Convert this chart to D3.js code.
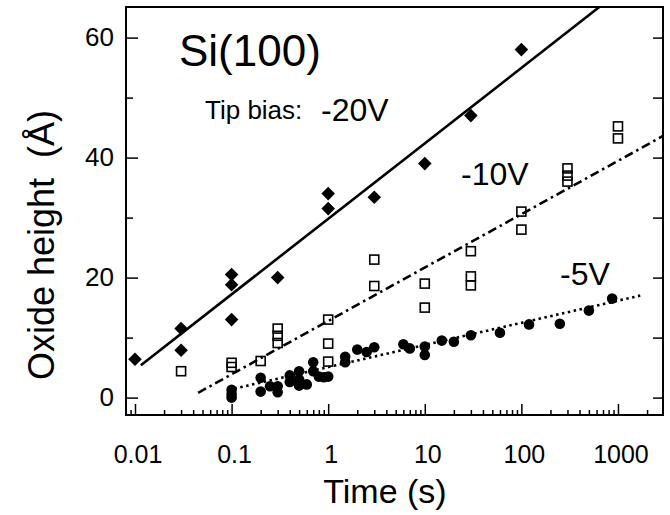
<!DOCTYPE html>
<html>
<head>
<meta charset="utf-8">
<script src="https://cdn.jsdelivr.net/npm/d3@7"></script>
<style>
  body { margin: 0; background: #fff; }
  svg { display: block; font-family: "Liberation Sans", Arial, sans-serif; }
</style>
</head>
<body>
<script>
// data: [time (s), oxide height (Å)]
const bias20 = [
  [0.01, 6.4], [0.03, 11.5], [0.03, 7.9],
  [0.1, 20.5], [0.1, 18.8], [0.1, 13.0], [0.3, 20.0],
  [1, 34.0], [1, 31.5], [3, 33.4], [10, 39.0], [30, 47.0], [100, 58.0]
];
const bias10 = [
  [0.03, 4.4], [0.1, 5.8], [0.1, 5.1], [0.2, 6.1],
  [0.3, 11.5], [0.3, 10.3], [0.3, 9.1],
  [1, 13.0], [1, 9.0], [1, 6.0], [3, 23.0], [3, 18.6],
  [10, 19.0], [10, 15.0], [30, 24.4], [30, 20.2], [30, 18.7],
  [100, 31.0], [100, 28.0], [300, 38.2], [300, 37.0], [300, 36.0],
  [1000, 45.2], [1000, 43.2]
];
const bias5 = [
  [0.1, 1.3], [0.1, 0.6], [0.1, 0.0],
  [0.2, 3.3], [0.2, 1.0], [0.25, 1.9], [0.3, 1.9], [0.3, 0.9],
  [0.4, 3.7], [0.4, 2.6], [0.5, 4.4], [0.5, 3.0], [0.5, 2.0], [0.6, 2.2],
  [0.7, 5.9], [0.7, 4.4], [0.8, 3.5], [0.9, 3.4], [1.0, 3.5],
  [1.5, 6.8], [1.5, 5.9], [2, 8.0], [2.5, 7.6], [3, 8.4],
  [6, 8.9], [7, 8.2], [10, 8.5], [10, 7.1], [15, 9.5], [20, 9.3],
  [30, 10.4], [60, 10.8], [120, 12.2], [250, 12.3], [500, 14.5], [870, 16.5]
];

// fitted lines (end points)
const fit20 = [[0.0115, 5.4], [641, 65.1]];
const fit10 = [[0.045, 0.8], [2925, 43.6]];
const fit5 = [[0.107, 1.5], [1700, 17.0]];

const xMajor = [0.01, 0.1, 1, 10, 100, 1000];
const xLabels = ["0.01", "0.1", "1", "10", "100", "1000"];
const yMajor = [0, 20, 40, 60];
const yMinor = [10, 30, 50];

const width = 670, height = 515;
const m = { left: 126, right: 663, top: 7, bottom: 415 };

const svg = d3.select("body").append("svg")
  .attr("width", width)
  .attr("height", height);

const x = d3.scaleLog()
  .domain([0.00807, 2925])
  .range([m.left, m.right]);

const y = d3.scaleLinear()
  .domain([-2.9, 65.1])
  .range([m.bottom, m.top]);

// minor ticks on the log axis: 2..9 in each decade
let xMinor = [];
[0.001, 0.01, 0.1, 1, 10, 100, 1000].forEach(d => {
  for (let k = 2; k <= 9; k++) {
    const v = d * k;
    if (v > x.domain()[0] && v < x.domain()[1]) xMinor.push(v);
  }
});

svg.append("defs").append("clipPath")
  .attr("id", "plot")
  .append("rect")
  .attr("x", m.left).attr("y", m.top)
  .attr("width", m.right - m.left).attr("height", m.bottom - m.top);

// frame
svg.append("rect")
  .attr("x", m.left).attr("y", m.top)
  .attr("width", m.right - m.left).attr("height", m.bottom - m.top)
  .attr("fill", "none")
  .attr("stroke", "#000")
  .attr("stroke-width", 2);

// x ticks (pointing up from the bottom)
svg.append("g").attr("transform", `translate(0,${m.bottom})`)
  .call(d3.axisBottom(x).tickValues(xMajor).tickSize(-11).tickFormat(""))
  .call(g => g.select(".domain").remove())
  .call(g => g.selectAll("line").attr("stroke-width", 1.5));
svg.append("g").attr("transform", `translate(0,${m.bottom})`)
  .call(d3.axisBottom(x).tickValues(xMinor).tickSize(-5).tickFormat(""))
  .call(g => g.select(".domain").remove())
  .call(g => g.selectAll("line").attr("stroke-width", 1.5));

svg.append("g").selectAll("text")
  .data(xMajor)
  .join("text")
  .attr("x", d => x(d) + 3)
  .attr("y", 463)
  .attr("text-anchor", "middle")
  .attr("font-size", 25)
  .text((d, i) => xLabels[i]);

// y ticks, left and right, pointing inward
svg.append("g").attr("transform", `translate(${m.left},0)`)
  .call(d3.axisLeft(y).tickValues(yMajor).tickSize(-12).tickFormat(""))
  .call(g => g.select(".domain").remove())
  .call(g => g.selectAll("line").attr("stroke-width", 1.5));
svg.append("g").attr("transform", `translate(${m.left},0)`)
  .call(d3.axisLeft(y).tickValues(yMinor).tickSize(-7).tickFormat(""))
  .call(g => g.select(".domain").remove())
  .call(g => g.selectAll("line").attr("stroke-width", 1.5));
svg.append("g").attr("transform", `translate(${m.right},0)`)
  .call(d3.axisRight(y).tickValues(yMajor.concat(yMinor)).tickSize(-10).tickFormat(""))
  .call(g => g.select(".domain").remove())
  .call(g => g.selectAll("line").attr("stroke-width", 1.5));

svg.append("g").selectAll("text")
  .data(yMajor)
  .join("text")
  .attr("x", 114)
  .attr("y", d => y(d) + 8)
  .attr("text-anchor", "end")
  .attr("font-size", 26)
  .text(d => d);

// axis titles
svg.append("text")
  .attr("x", 385).attr("y", 503)
  .attr("text-anchor", "middle")
  .attr("font-size", 34)
  .text("Time (s)");

svg.append("text")
  .attr("transform", "translate(54,245) rotate(-90)")
  .attr("text-anchor", "middle")
  .attr("font-size", 36)
  .attr("xml:space", "preserve")
  .text("Oxide height  (Å)");

// fit lines
const line = d3.line().x(d => x(d[0])).y(d => y(d[1]));
const fits = svg.append("g").attr("clip-path", "url(#plot)")
  .attr("fill", "none").attr("stroke", "#000");
fits.append("path").attr("d", line(fit20)).attr("stroke-width", 2.6);
fits.append("path").attr("d", line(fit10)).attr("stroke-width", 2.6)
  .attr("stroke-dasharray", "9,4,2.5,4");
fits.append("path").attr("d", line(fit5)).attr("stroke-width", 2.6)
  .attr("stroke-dasharray", "2.5,3.5");

// markers
svg.append("g").selectAll("path")
  .data(bias20)
  .join("path")
  .attr("d", d3.symbol(d3.symbolSquare, 92))
  .attr("transform", d => `translate(${x(d[0])},${y(d[1])}) rotate(45)`)
  .attr("fill", "#000");

svg.append("g").selectAll("rect")
  .data(bias10)
  .join("rect")
  .attr("x", d => x(d[0]) - 4.5)
  .attr("y", d => y(d[1]) - 4.5)
  .attr("width", 9).attr("height", 9)
  .attr("fill", "none")
  .attr("stroke", "#000")
  .attr("stroke-width", 1.6);

svg.append("g").selectAll("circle")
  .data(bias5)
  .join("circle")
  .attr("cx", d => x(d[0]))
  .attr("cy", d => y(d[1]))
  .attr("r", 5.3)
  .attr("fill", "#000");

// annotations
svg.append("text").attr("x", 179).attr("y", 66)
  .attr("font-size", 44).text("Si(100)");
svg.append("text").attr("x", 205).attr("y", 119)
  .attr("font-size", 26).text("Tip bias:");
svg.append("text").attr("x", 321).attr("y", 121)
  .attr("font-size", 32).text("-20V");
svg.append("text").attr("x", 461).attr("y", 185)
  .attr("font-size", 32).text("-10V");
svg.append("text").attr("x", 560).attr("y", 285)
  .attr("font-size", 32).text("-5V");
</script>
</body>
</html>
